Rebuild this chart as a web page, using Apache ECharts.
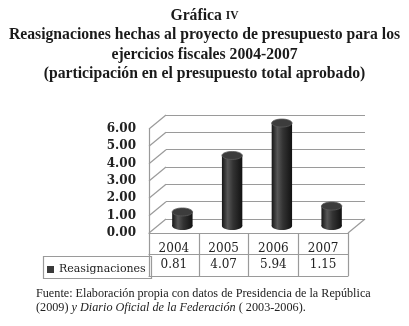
<!DOCTYPE html>
<html><head><meta charset="utf-8">
<script src="https://cdn.jsdelivr.net/npm/echarts@6/dist/echarts.min.js"></script>
<style>html,body{margin:0;padding:0;background:#fff}#c{width:409px;height:326px}</style>
</head><body><div id="c"></div>
<script>
const categories = ['2004', '2005', '2006', '2007'];
const seriesName = 'Reasignaciones';
const values = [0.81, 4.07, 5.94, 1.15];
const yTicks = [0, 1, 2, 3, 4, 5, 6];

const DX = 17, DY = -14;        // depth offset of the back wall
const BX = 8.5, BY = -7;        // bars sit half-way in depth
const GRAY = '#9a9a9a';
const SERIF = '"Liberation Serif", serif';
const NUMF = '"DejaVu Serif", serif';

const chart = echarts.init(document.getElementById('c'), null, {renderer: 'canvas'});

function wallItem(params, api) {
  const v = api.value(1);
  const cs = params.coordSys;
  const p = api.coord([0, v]);
  const x0 = cs.x;
  const ch = [{type: 'line', shape: {x1: x0, y1: p[1], x2: x0 + DX, y2: p[1] + DY},
               style: {stroke: GRAY, lineWidth: 1.2}}];
  if (v === 0) {
    ch.push({type: 'line', shape: {x1: x0 + cs.width, y1: p[1], x2: x0 + cs.width + DX, y2: p[1] + DY},
             style: {stroke: GRAY, lineWidth: 1.2}});
  }
  return {type: 'group', children: ch};
}

function cylItem(params, api) {
  const i = api.value(0), v = api.value(1);
  const top = api.coord([i, v]);
  const base = api.coord([i, 0]);
  const bw = api.size([1, 0])[0];
  const w = bw * 0.41, rx = w / 2, ry = 4;
  const cx = top[0] + BX, ty = top[1] + BY, by = base[1] + BY;
  const grad = new echarts.graphic.LinearGradient(0, 0, 1, 0, [
    {offset: 0, color: '#161616'}, {offset: 0.28, color: '#575757'},
    {offset: 0.55, color: '#333333'}, {offset: 1, color: '#121212'}]);
  return {type: 'group', children: [
    {type: 'ellipse', shape: {cx: cx, cy: by, rx: rx, ry: ry}, style: {fill: grad}},
    {type: 'rect', shape: {x: cx - rx, y: ty, width: w, height: by - ty}, style: {fill: grad}},
    {type: 'ellipse', shape: {cx: cx, cy: ty, rx: rx, ry: ry},
     style: {fill: '#3c3c3c', stroke: '#5a5a5a', lineWidth: 0.8}}
  ]};
}

const option = {
  backgroundColor: '#fff',
  animation: false,
  title: {
    left: 'center', top: 1,
    text: '{s|Gráfica }{k|IV}\n{s|Reasignaciones hechas al proyecto de presupuesto para los}\n{s|ejercicios fiscales 2004-2007}\n{s|(participación en el presupuesto total aprobado)}',
    textStyle: {
      align: 'center',
      rich: {
        s: {fontFamily: SERIF, fontWeight: 'bold', fontSize: 15.7, color: '#1a1a1a', lineHeight: 19.5},
        k: {fontFamily: SERIF, fontWeight: 'bold', fontSize: 11.5, color: '#1a1a1a', lineHeight: 19.5}
      }
    }
  },
  legend: {
    data: [seriesName], left: 42, top: 259, icon: 'rect', itemWidth: 7, itemHeight: 7, itemGap: 4,
    textStyle: {fontFamily: NUMF, fontSize: 11, color: '#222', padding: [0, 0, 0, 0]},
    selectedMode: false
  },
  grid: [
    {left: 149, top: 129, width: 199, height: 104},
    {left: 166, top: 115, width: 199, height: 104}
  ],
  xAxis: [
    {gridIndex: 0, type: 'category', data: categories, position: 'bottom',
     axisLine: {lineStyle: {color: GRAY, width: 1.2}},
     axisTick: {show: true, length: 43, lineStyle: {color: GRAY, width: 1.2}},
     axisLabel: {margin: 10, fontFamily: NUMF, fontSize: 12, color: '#222'}},
    {gridIndex: 0, type: 'category', data: categories, position: 'bottom', offset: 21,
     axisLine: {lineStyle: {color: GRAY, width: 1.2}}, axisTick: {show: false},
     axisLabel: {margin: 5, fontFamily: NUMF, fontSize: 12, color: '#222',
                 formatter: (v, i) => values[i].toFixed(2)}},
    {gridIndex: 0, type: 'category', data: categories, position: 'bottom', offset: 43,
     axisLine: {lineStyle: {color: GRAY, width: 1.2}}, axisTick: {show: false}, axisLabel: {show: false}},
    {gridIndex: 1, type: 'category', data: categories, show: false}
  ],
  yAxis: [
    {gridIndex: 0, type: 'value', min: 0, max: 6, interval: 1,
     axisLine: {show: true, lineStyle: {color: GRAY, width: 1.2}}, axisTick: {show: false},
     splitLine: {show: false},
     axisLabel: {margin: 13, fontFamily: NUMF, fontWeight: 'bold', fontSize: 12, color: '#222',
                 formatter: v => v.toFixed(2)}},
    {gridIndex: 1, type: 'value', min: 0, max: 6, interval: 1,
     axisLine: {show: false}, axisTick: {show: false}, axisLabel: {show: false},
     splitLine: {show: true, lineStyle: {color: GRAY, width: 1.2}}}
  ],
  series: [
    {type: 'custom', name: 'walls', xAxisIndex: 0, yAxisIndex: 0, silent: true, z: 1,
     data: yTicks.map(t => [0, t]), renderItem: wallItem},
    {type: 'custom', name: seriesName, xAxisIndex: 0, yAxisIndex: 0, z: 5,
     itemStyle: {color: '#3a3a3a'},
     data: values.map((v, i) => [i, v]), renderItem: cylItem}
  ],
  graphic: [
    {type: 'rect', left: 41, top: 254, shape: {width: 108, height: 22},
     style: {fill: 'none', stroke: GRAY, lineWidth: 1.2}, z: 0},
    {type: 'text', left: 36, top: 288,
     style: {
       text: '{r|Fuente: Elaboración propia con datos de Presidencia de la República}\n{r|(2009) }{i|y Diario Oficial de la Federación}{r| ( 2003-2006).}',
       rich: {
         r: {fontFamily: SERIF, fontSize: 12.2, fill: '#222', lineHeight: 14},
         i: {fontFamily: SERIF, fontSize: 12.2, fontStyle: 'italic', fill: '#222', lineHeight: 14}
       }
     }}
  ]
};
chart.setOption(option);
</script>
</body></html>
